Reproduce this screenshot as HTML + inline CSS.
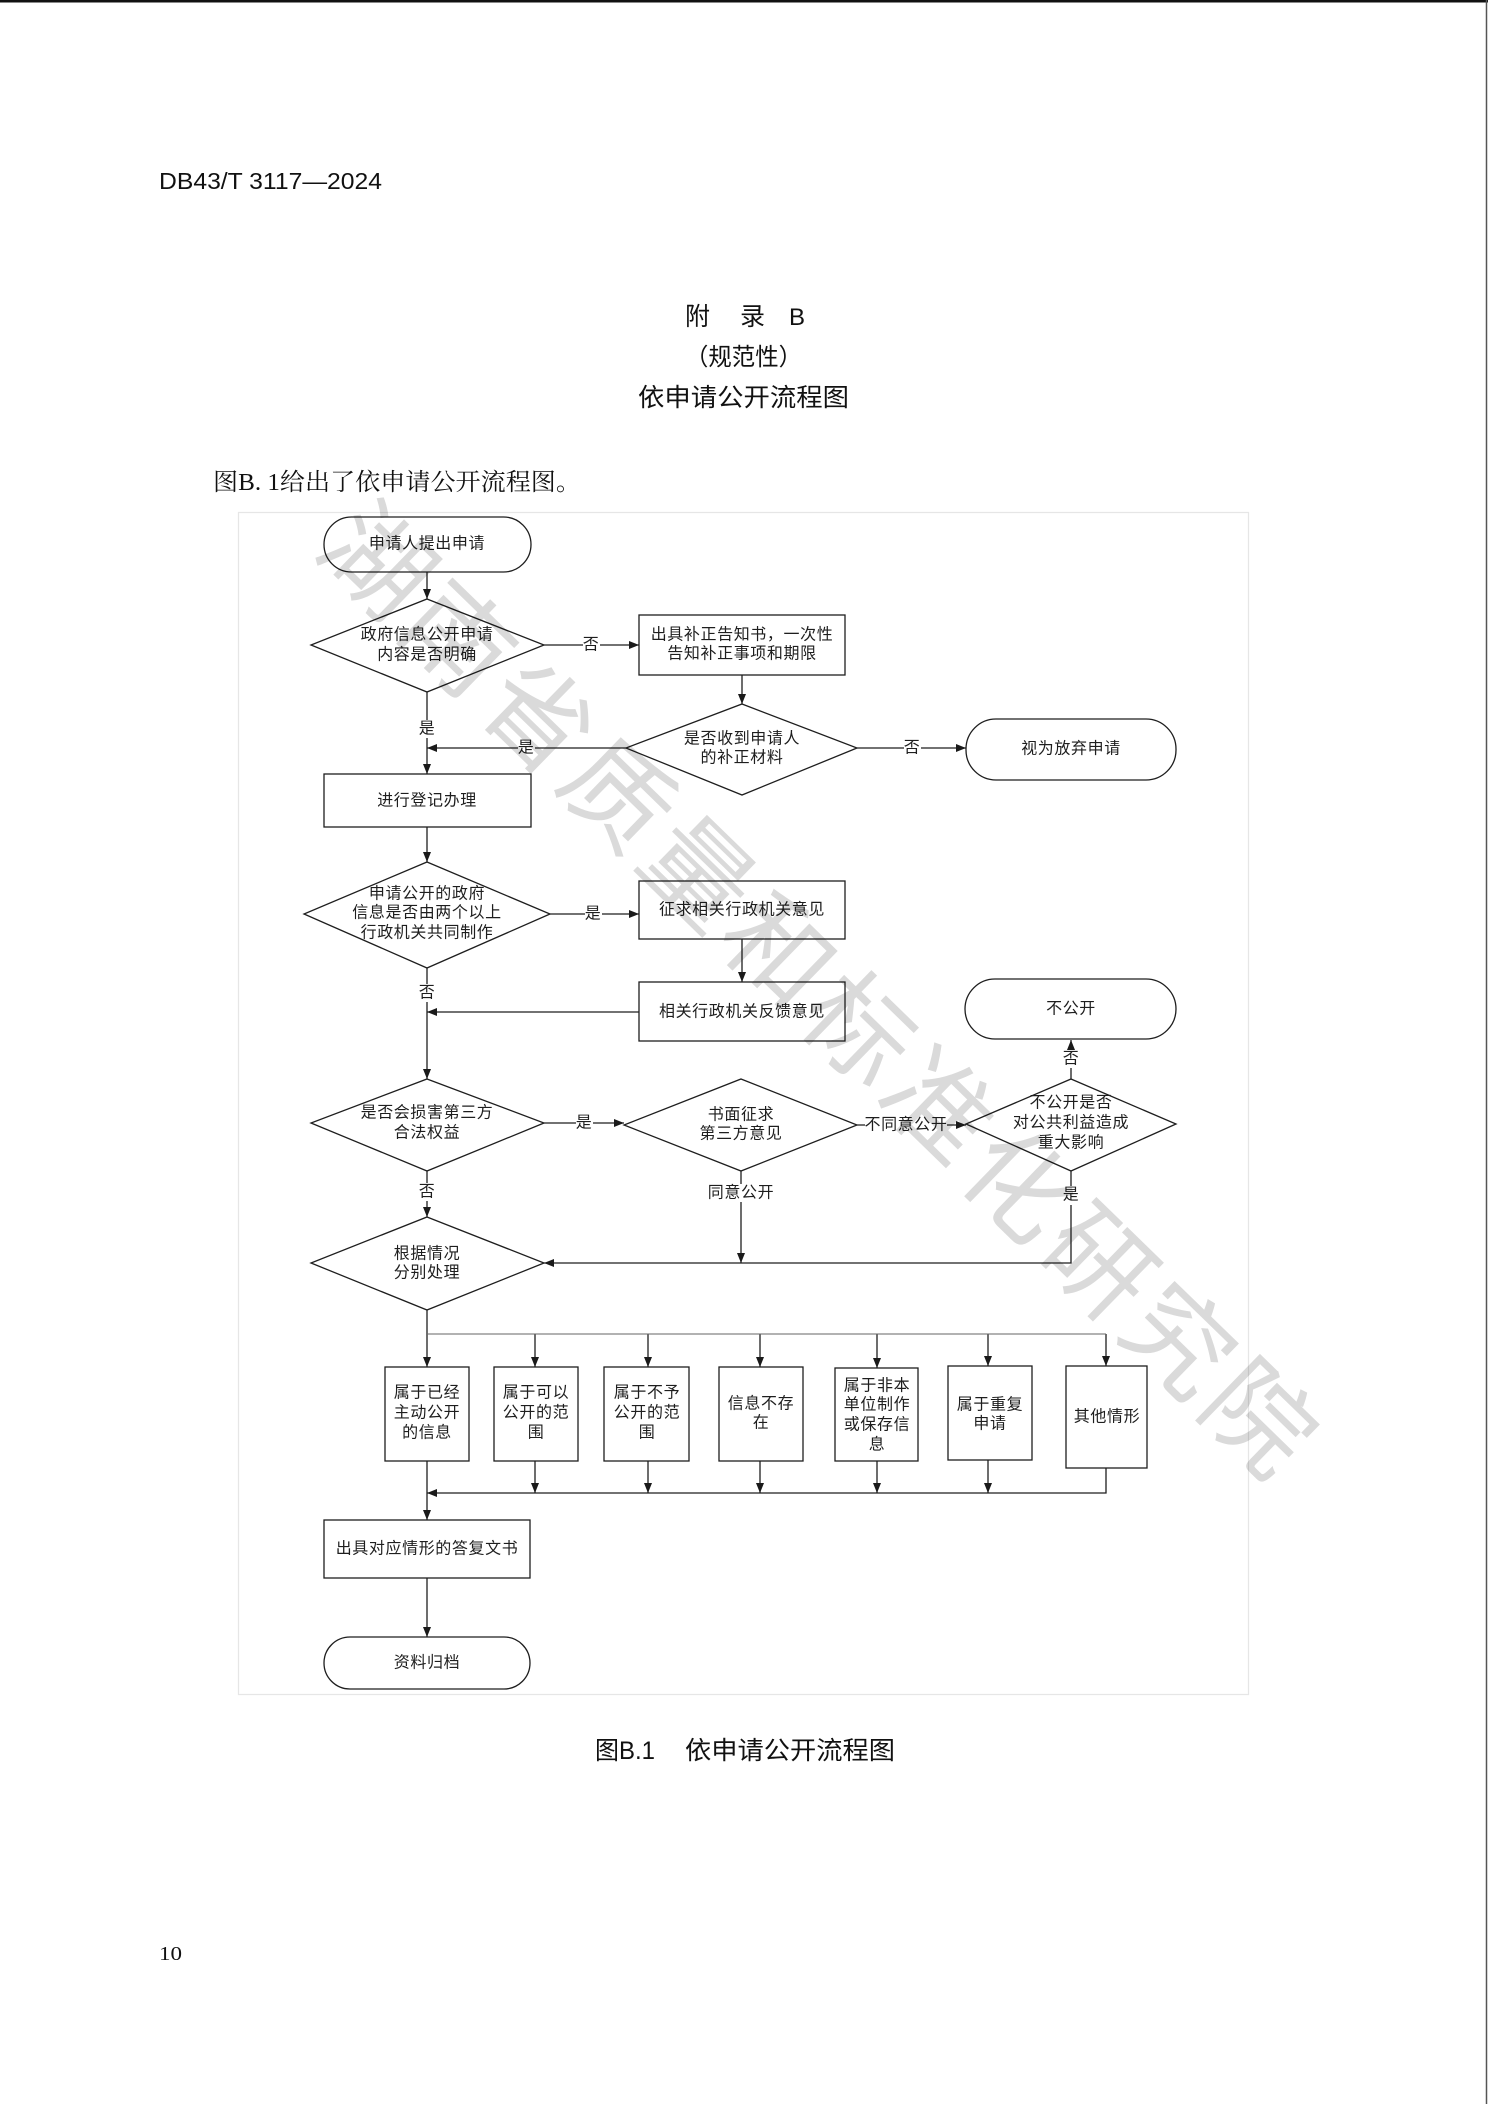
<!DOCTYPE html>
<html>
<head>
<meta charset="utf-8">
<style>
  html,body{margin:0;padding:0;background:#fff;}
  body{width:1488px;height:2104px;overflow:hidden;}
  svg{display:block;}
  .d{font-family:"Liberation Sans","Noto Sans CJK SC",sans-serif;font-size:16px;letter-spacing:0.6px;fill:#1e1e1e;}
</style>
</head>
<body>
<svg width="1488" height="2104" viewBox="0 0 1488 2104" xmlns="http://www.w3.org/2000/svg">
  <defs>
    <marker id="ah" viewBox="0 0 10 8" refX="10" refY="4" markerWidth="10" markerHeight="8" markerUnits="userSpaceOnUse" orient="auto">
      <path d="M0,0 L10,4 L0,8 z" fill="#1a1a1a"/>
    </marker>
  </defs>

  <!-- page borders -->
  <rect x="0" y="0" width="1488" height="2.5" fill="#111"/>
  <line x1="1486.5" y1="0" x2="1486.5" y2="2104" stroke="#555" stroke-width="1.5"/>

  <!-- header -->
  <text x="159" y="189" font-family="Liberation Sans, sans-serif" font-size="23" textLength="223" lengthAdjust="spacingAndGlyphs" fill="#111">DB43/T 3117—2024</text>

  <g font-family="Liberation Sans, Noto Sans CJK SC, sans-serif" fill="#111">
    <text x="685" y="325" font-size="25" font-family="Noto Sans CJK SC, sans-serif">附</text>
    <text x="740" y="325" font-size="25" font-family="Noto Sans CJK SC, sans-serif">录</text>
    <text x="789" y="325" font-size="24" font-family="Liberation Sans, sans-serif">B</text>
    <text x="685" y="365" font-size="24" font-family="Noto Sans CJK SC, sans-serif" textLength="117" lengthAdjust="spacingAndGlyphs">（规范性）</text>
    <text x="638" y="406" font-size="25" font-family="Noto Sans CJK SC, sans-serif" textLength="211" lengthAdjust="spacingAndGlyphs">依申请公开流程图</text>
  </g>

  <text x="213" y="490" font-family="Liberation Serif, Noto Serif CJK SC, serif" font-size="24" textLength="368" lengthAdjust="spacingAndGlyphs" fill="#111">图B. 1给出了依申请公开流程图。</text>

  <!-- diagram frame -->
  <rect x="238.5" y="512.5" width="1010" height="1182" fill="none" stroke="#e6e6e6" stroke-width="1.2"/>

  <!-- shapes -->
  <g fill="none" stroke="#1e1e1e" stroke-width="1.3">
    <rect x="324" y="517" width="207" height="55" rx="27.5"/>
    <polygon points="427,599 544,645 427,692 311,645"/>
    <rect x="639" y="615" width="206" height="60"/>
    <polygon points="742,704 857,748 742,795 626,748"/>
    <rect x="966" y="719" width="210" height="61" rx="30"/>
    <rect x="324" y="774" width="207" height="53"/>
    <polygon points="427,862 550,914 427,968 304,914"/>
    <rect x="639" y="881" width="206" height="58"/>
    <rect x="639" y="982" width="206" height="59"/>
    <polygon points="427,1079 544,1123 427,1171 311,1123"/>
    <polygon points="741,1079 857,1125 741,1171 624,1125"/>
    <polygon points="1071,1079 1176,1124 1071,1171 966,1124"/>
    <rect x="965" y="979" width="211" height="60" rx="30"/>
    <polygon points="427,1217 544,1263 427,1310 311,1263"/>
    <rect x="385" y="1367" width="84" height="94"/>
    <rect x="494" y="1367" width="84" height="94"/>
    <rect x="604" y="1367" width="85" height="94"/>
    <rect x="719" y="1367" width="84" height="94"/>
    <rect x="835" y="1368" width="83" height="93"/>
    <rect x="948" y="1366" width="84" height="94"/>
    <rect x="1066" y="1366" width="81" height="102"/>
    <rect x="324" y="1520" width="206" height="58"/>
    <rect x="324" y="1637" width="206" height="52" rx="26"/>
  </g>

  <!-- connectors -->
  <g fill="none" stroke="#1e1e1e" stroke-width="1.3" marker-end="url(#ah)">
    <path d="M427,572 V599"/>
    <path d="M544,645 H639"/>
    <path d="M742,675 V704"/>
    <path d="M857,748 H966"/>
    <path d="M626,748 H427"/>
    <path d="M427,692 V774"/>
    <path d="M427,827 V862"/>
    <path d="M550,914 H639"/>
    <path d="M742,939 V982"/>
    <path d="M639,1012 H427"/>
    <path d="M427,968 V1079"/>
    <path d="M544,1123 H624"/>
    <path d="M857,1125 H966"/>
    <path d="M1071,1079 V1040"/>
    <path d="M741,1171 V1263"/>
    <path d="M1071,1171 V1263 H544"/>
    <path d="M427,1171 V1217"/>
    <path d="M427,1310 V1367"/>
    <path d="M535,1334 V1367"/>
    <path d="M648,1334 V1367"/>
    <path d="M760,1334 V1367"/>
    <path d="M877,1334 V1368"/>
    <path d="M988,1334 V1366"/>
    <path d="M1106,1334 V1366"/>
    <path d="M535,1461 V1493"/>
    <path d="M648,1461 V1493"/>
    <path d="M760,1461 V1493"/>
    <path d="M877,1461 V1493"/>
    <path d="M988,1460 V1493"/>
    <path d="M1106,1468 V1493 H427"/>
    <path d="M427,1461 V1520"/>
    <path d="M427,1578 V1637"/>
  </g>
  <line x1="427" y1="1334" x2="1106" y2="1334" stroke="#666" stroke-width="1"/>

  <!-- label backgrounds -->
  <g fill="#fff">
    <rect x="583" y="636" width="17" height="18"/>
    <rect x="904" y="739" width="17" height="18"/>
    <rect x="518" y="739" width="17" height="18"/>
    <rect x="419" y="720" width="17" height="18"/>
    <rect x="585" y="905" width="17" height="18"/>
    <rect x="419" y="984" width="17" height="18"/>
    <rect x="576" y="1114" width="17" height="18"/>
    <rect x="865" y="1116" width="82" height="18"/>
    <rect x="1063" y="1050" width="17" height="18"/>
    <rect x="707" y="1184" width="68" height="18"/>
    <rect x="1063" y="1186" width="17" height="19"/>
    <rect x="419" y="1183" width="17" height="18"/>
  </g>

  <!-- diagram text -->
  <g class="d" text-anchor="middle" dominant-baseline="central">
    <text x="427" y="544">申请人提出申请</text>
    <text x="427" y="635">政府信息公开申请</text>
    <text x="427" y="655">内容是否明确</text>
    <text x="591" y="645">否</text>
    <text x="742" y="635">出具补正告知书，一次性</text>
    <text x="742" y="654">告知补正事项和期限</text>
    <text x="742" y="739">是否收到申请人</text>
    <text x="742" y="758">的补正材料</text>
    <text x="912" y="748">否</text>
    <text x="1071" y="749">视为放弃申请</text>
    <text x="526" y="748">是</text>
    <text x="427" y="729">是</text>
    <text x="427" y="801">进行登记办理</text>
    <text x="427" y="894">申请公开的政府</text>
    <text x="427" y="913">信息是否由两个以上</text>
    <text x="427" y="933">行政机关共同制作</text>
    <text x="593" y="914">是</text>
    <text x="742" y="910">征求相关行政机关意见</text>
    <text x="742" y="1012">相关行政机关反馈意见</text>
    <text x="427" y="993">否</text>
    <text x="427" y="1113">是否会损害第三方</text>
    <text x="427" y="1133">合法权益</text>
    <text x="584" y="1123">是</text>
    <text x="741" y="1115">书面征求</text>
    <text x="741" y="1134">第三方意见</text>
    <text x="906" y="1125">不同意公开</text>
    <text x="1071" y="1103">不公开是否</text>
    <text x="1071" y="1123">对公共利益造成</text>
    <text x="1071" y="1143">重大影响</text>
    <text x="1071" y="1059">否</text>
    <text x="1071" y="1009">不公开</text>
    <text x="741" y="1193">同意公开</text>
    <text x="1071" y="1195">是</text>
    <text x="427" y="1192">否</text>
    <text x="427" y="1254">根据情况</text>
    <text x="427" y="1273">分别处理</text>

    <text x="427" y="1393">属于已经</text>
    <text x="427" y="1413">主动公开</text>
    <text x="427" y="1433">的信息</text>

    <text x="536" y="1393">属于可以</text>
    <text x="536" y="1413">公开的范</text>
    <text x="536" y="1433">围</text>

    <text x="647" y="1393">属于不予</text>
    <text x="647" y="1413">公开的范</text>
    <text x="647" y="1433">围</text>

    <text x="761" y="1404">信息不存</text>
    <text x="761" y="1423">在</text>

    <text x="877" y="1386">属于非本</text>
    <text x="877" y="1405">单位制作</text>
    <text x="877" y="1425">或保存信</text>
    <text x="877" y="1445">息</text>

    <text x="990" y="1405">属于重复</text>
    <text x="990" y="1424">申请</text>

    <text x="1107" y="1417">其他情形</text>

    <text x="427" y="1549">出具对应情形的答复文书</text>
    <text x="427" y="1663">资料归档</text>
  </g>

  <!-- caption -->
  <text x="595" y="1759" font-family="Liberation Sans, Noto Sans CJK SC, sans-serif" font-size="25" textLength="60" lengthAdjust="spacingAndGlyphs" fill="#111">图B.1</text>
  <text x="685" y="1759" font-family="Noto Sans CJK SC, sans-serif" font-size="25" textLength="210" lengthAdjust="spacingAndGlyphs" fill="#111">依申请公开流程图</text>

  <!-- page number -->
  <text x="159" y="1960" font-family="Liberation Serif, serif" font-size="20" textLength="23" lengthAdjust="spacingAndGlyphs" fill="#111">10</text>

  <!-- watermark -->
  <g transform="translate(824,984) rotate(44.2)" style="mix-blend-mode:multiply">
    <text x="-668" y="0" font-family="Noto Sans CJK SC, sans-serif" font-size="106" fill="#dadada" dominant-baseline="central" textLength="1336" lengthAdjust="spacing">湖南省质量和标准化研究院</text>
  </g>
</svg>
</body>
</html>
